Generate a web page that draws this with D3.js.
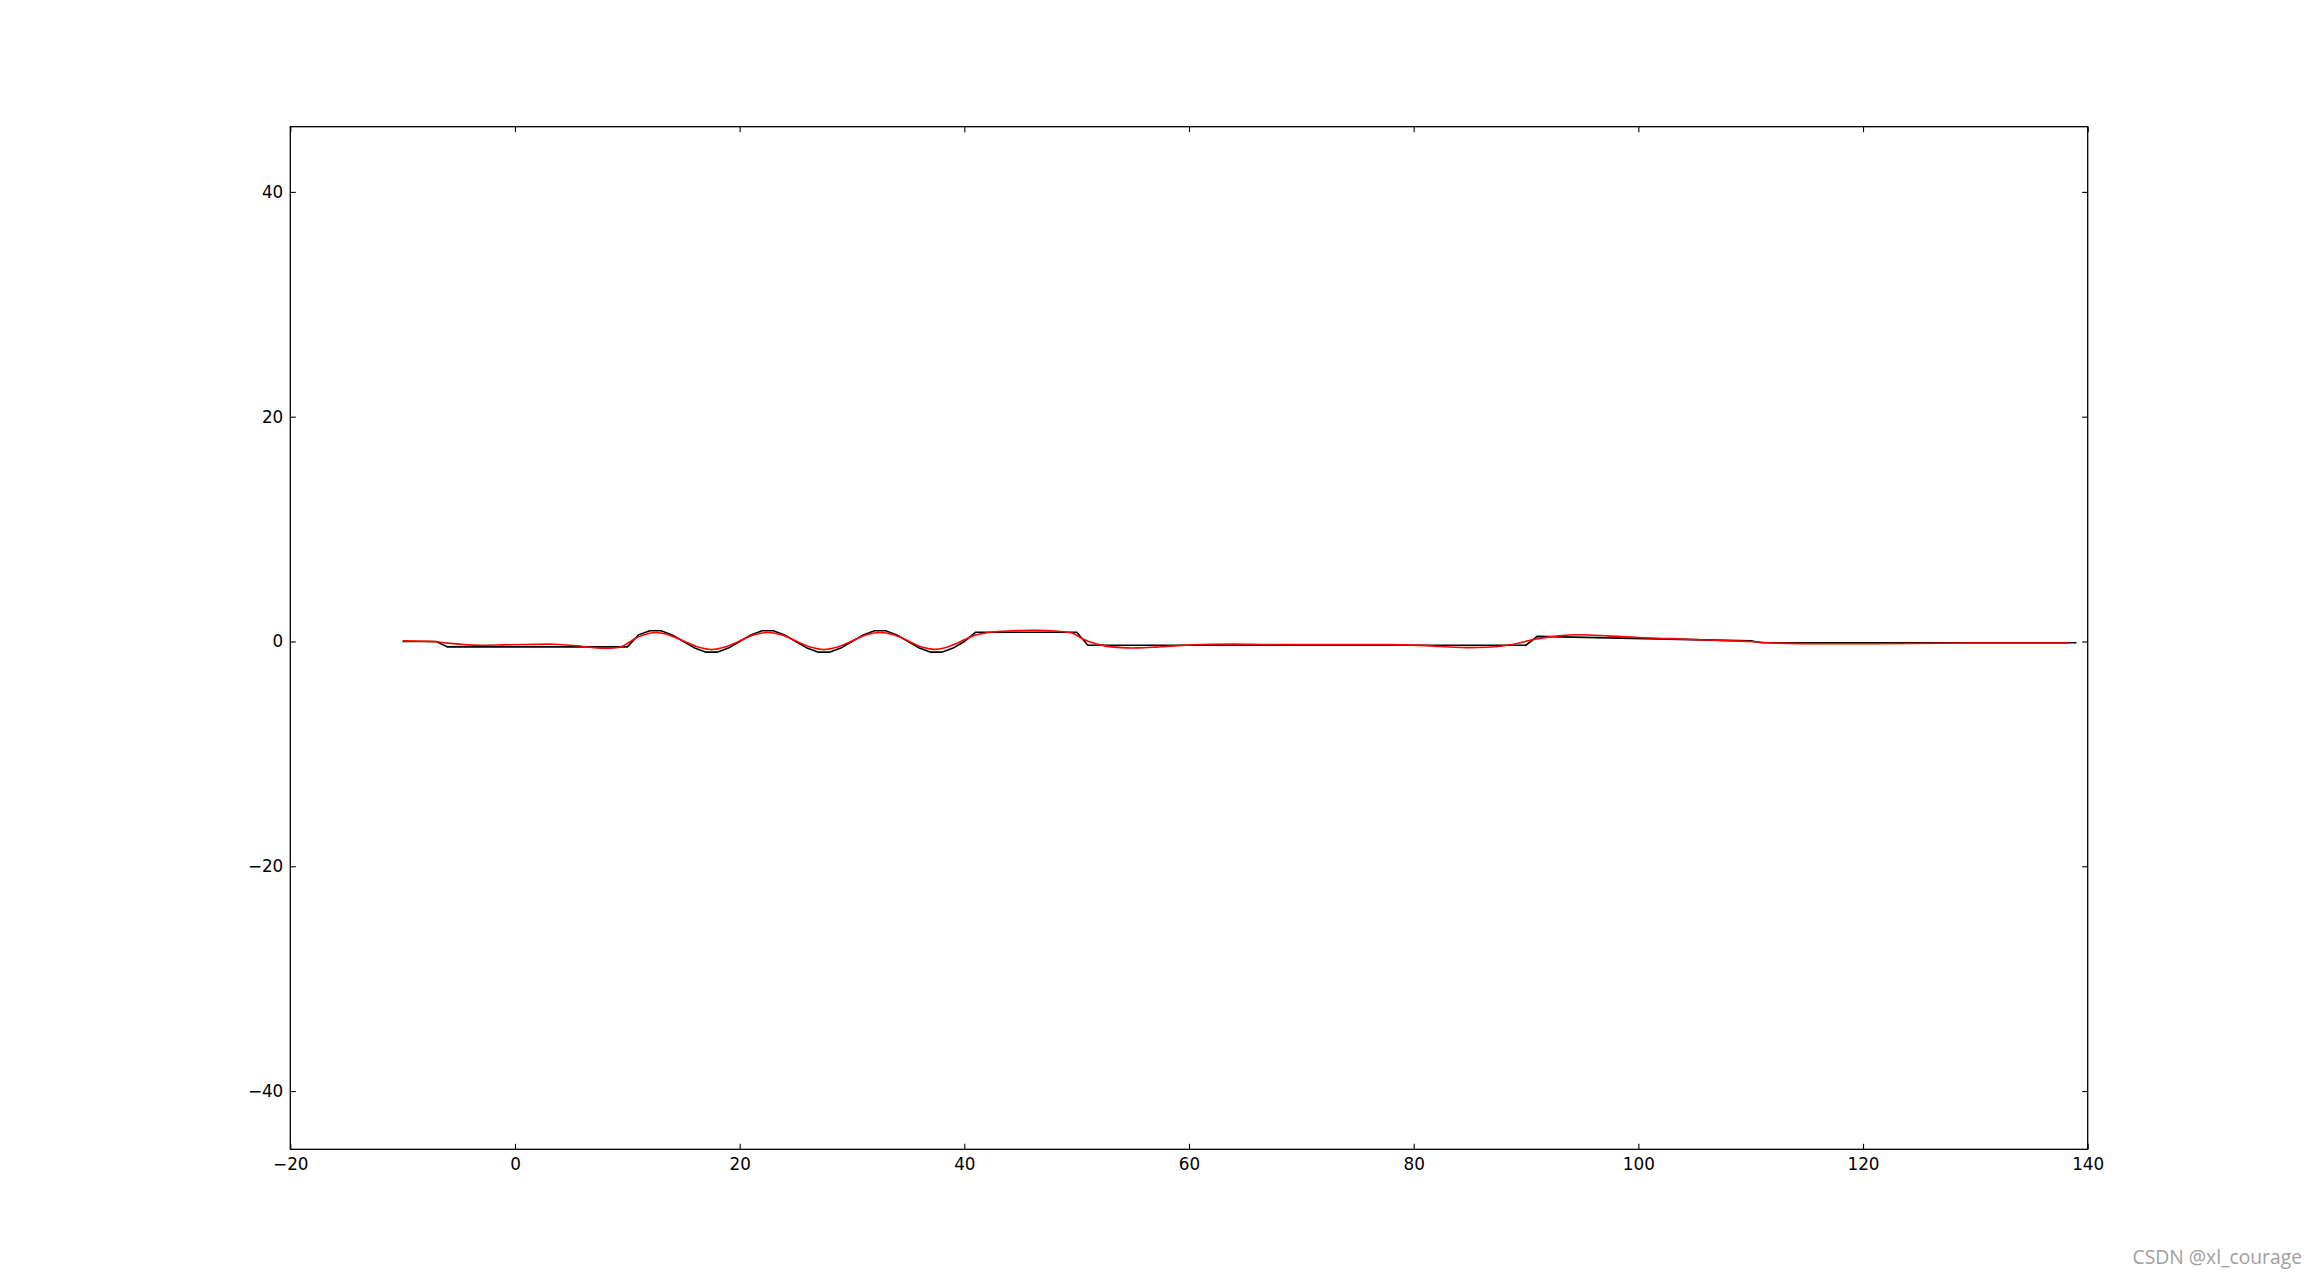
<!DOCTYPE html>
<html>
<head>
<meta charset="utf-8">
<script src="https://cdn.jsdelivr.net/npm/d3@7"></script>
<style>
  html, body { margin: 0; padding: 0; background: #fff; }
  svg { display: block; }
</style>
</head>
<body>
<svg id="chart" width="2318" height="1277"></svg>
<script>
// ---- data ----
const xTicks = [-20, 0, 20, 40, 60, 80, 100, 120, 140];
const yTicks = [-40, -20, 0, 20, 40];

// black polyline (reference path)
const refX = [-10, -7, -6, 10, 11, 12, 13, 14, 15, 16, 17, 18, 19, 20, 21, 22, 23, 24, 25, 26, 27, 28, 29, 30,
              31, 32, 33, 34, 35, 36, 37, 38, 39, 40, 41, 50, 51, 90, 91, 110, 111, 139];
const refY = [0, 0, -0.48, -0.48, 0.59, 0.95, 0.95, 0.59, 0, -0.59, -0.95, -0.95, -0.59, 0, 0.59, 0.95, 0.95, 0.59, 0, -0.59, -0.95, -0.95, -0.59, 0,
              0.59, 0.95, 0.95, 0.59, 0, -0.59, -0.95, -0.95, -0.59, 0, 0.82, 0.82, -0.33, -0.33, 0.45, 0.05, -0.11, -0.11];

// red smoothed curve
const fitX = [-10, -8, -7, -6, -4.5, -3, -1, 1, 3.5, 5.5, 7, 8.3, 9.4, 10.2, 10.7, 11.5, 12.5, 13.5, 15, 16.3, 17.5, 18.7,
              20, 21.3, 22.5, 23.7, 25, 26.3, 27.5, 28.7, 30, 31.3, 32.5, 33.7, 35, 36.2, 37.3, 38.3, 39, 40, 40.8,
              42, 43, 45, 46.5, 48, 49.7, 50.3, 51, 52.4, 54, 55.5, 57, 59, 62, 64, 67, 72, 77, 80, 82.5, 85, 87.5,
              89.3, 90.8, 92.9, 94.7, 97.3, 100, 103, 106, 110, 112, 116.5, 124, 130, 138.4];
const fitY = [0.05, 0.02, -0.02, -0.15, -0.28, -0.33, -0.3, -0.27, -0.24, -0.38, -0.55, -0.6, -0.5, -0.05, 0.28, 0.6, 0.8, 0.65, 0.05, -0.5, -0.72, -0.5,
              0.05, 0.6, 0.8, 0.6, 0.05, -0.5, -0.72, -0.5, 0.05, 0.6, 0.8, 0.6, 0.05, -0.5, -0.7, -0.55, -0.3, 0.15, 0.52,
              0.78, 0.88, 0.98, 0.99, 0.93, 0.72, 0.35, 0.02, -0.37, -0.55, -0.57, -0.5, -0.37, -0.25, -0.22, -0.27, -0.28, -0.28, -0.32, -0.45, -0.55, -0.45,
              -0.16, 0.2, 0.5, 0.6, 0.5, 0.35, 0.25, 0.13, 0, -0.13, -0.2, -0.18, -0.14, -0.13];

// ---- layout ----
const L = 290.3, R = 2087.7, T = 126.7, B = 1149.3;
const svg = d3.select("#chart");

const x = d3.scaleLinear().domain([-20, 140]).range([L, R]);
const y = d3.scaleLinear().domain([-45.18, 45.80]).range([B, T]);

const tickLen = 5.5;
const fontFam = "'DejaVu Sans', sans-serif";

function styleAxis(g) {
  g.selectAll("path.domain").remove();
  g.selectAll(".tick line").attr("stroke", "#000").attr("stroke-width", 1.1);
  g.selectAll(".tick text").attr("fill", "#000").style("font-family", fontFam).style("font-size", "16.8px");
}

svg.append("g").attr("transform", `translate(0,${B})`)
  .call(d3.axisBottom(x).tickValues(xTicks).tickSizeInner(-tickLen).tickSizeOuter(0).tickPadding(8.5))
  .call(styleAxis);
svg.append("g").attr("transform", `translate(0,${T})`)
  .call(d3.axisTop(x).tickValues(xTicks).tickSizeInner(-tickLen).tickSizeOuter(0).tickFormat(""))
  .call(styleAxis);
svg.append("g").attr("transform", `translate(${L},0)`)
  .call(d3.axisLeft(y).tickValues(yTicks).tickSizeInner(-tickLen).tickSizeOuter(0).tickPadding(7))
  .call(styleAxis);
svg.append("g").attr("transform", `translate(${R},0)`)
  .call(d3.axisRight(y).tickValues(yTicks).tickSizeInner(-tickLen).tickSizeOuter(0).tickFormat(""))
  .call(styleAxis);

// clip
svg.append("clipPath").attr("id", "clip").append("rect")
  .attr("x", L).attr("y", T).attr("width", R - L).attr("height", B - T);

const refData = refX.map((v, i) => [v, refY[i]]);
const fitData = fitX.map((v, i) => [v, fitY[i]]);

const lineLin = d3.line().x(d => x(d[0])).y(d => y(d[1]));
const lineSmooth = d3.line().x(d => x(d[0])).y(d => y(d[1])).curve(d3.curveCatmullRom.alpha(0.5));

const plot = svg.append("g").attr("clip-path", "url(#clip)");
plot.append("path").datum(refData).attr("d", lineLin)
  .attr("fill", "none").attr("stroke", "#000").attr("stroke-width", 1.6).attr("stroke-linejoin", "miter");
plot.append("path").datum(fitData).attr("d", lineSmooth)
  .attr("fill", "none").attr("stroke", "#ff0000").attr("stroke-width", 1.6);

// frame
svg.append("rect").attr("x", L).attr("y", T).attr("width", R - L).attr("height", B - T)
  .attr("fill", "none").attr("stroke", "#000").attr("stroke-width", 1.3);

// watermark
svg.append("text").attr("x", 2302).attr("y", 1263.5).attr("text-anchor", "end")
  .style("font-family", "'Open Sans', 'Noto Sans', sans-serif").style("font-size", "19.3px")
  .attr("fill", "#a0a0a0").text("CSDN @xl_courage");
</script>
</body>
</html>
